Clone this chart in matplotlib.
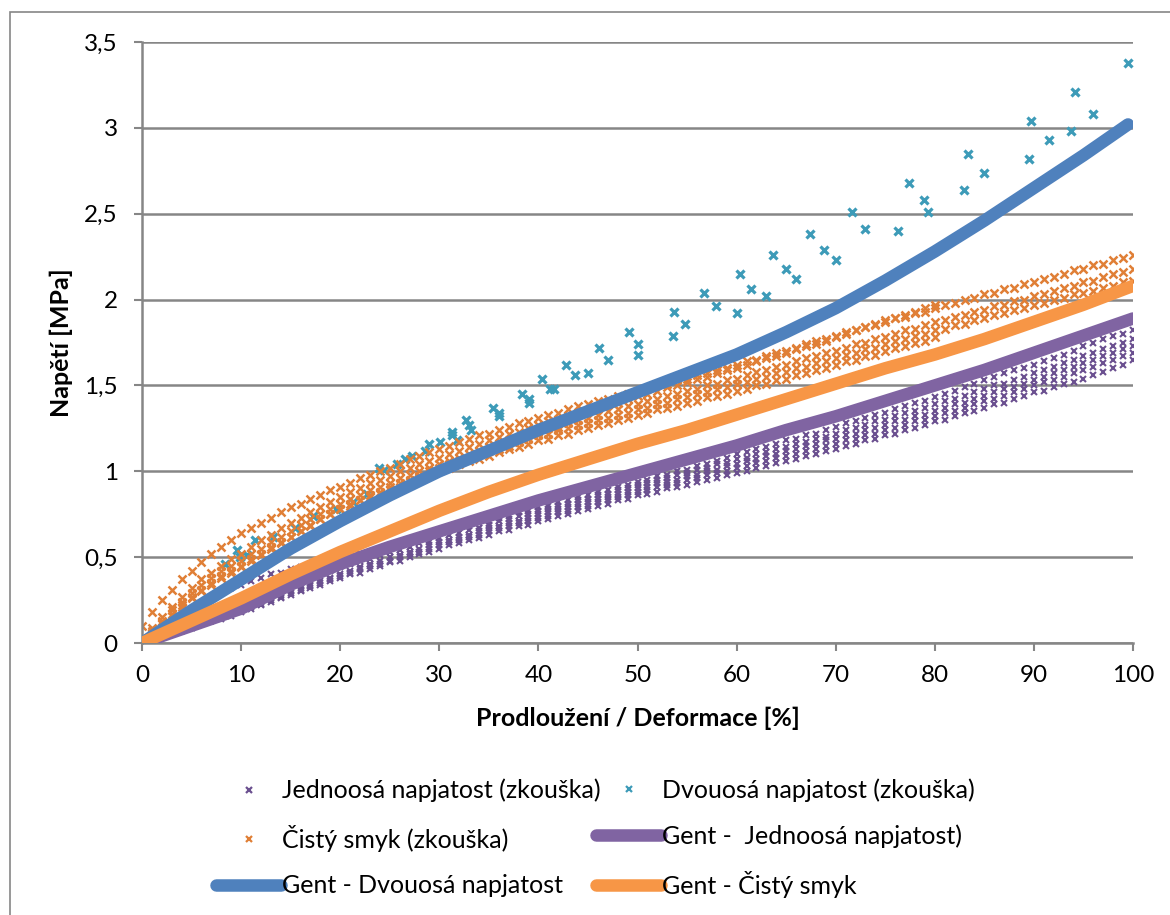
#coding:utf-8

import numpy as np
import matplotlib
matplotlib.use('Agg')
import matplotlib.pyplot as plt
from matplotlib.lines import Line2D
from matplotlib.patches import Rectangle

plt.rcParams['font.family'] = ['Lato', 'DejaVu Sans']

# ---- experimental data (strain in %, stress in MPa) ----
strain = np.arange(0, 101)        # full cycles, every 1 %
strain_short = np.arange(0, 81)   # cycles stopped at 80 %

# uniaxial test, five cycles
uni_1 = [0.00, 0.04, 0.08, 0.12, 0.16, 0.20, 0.23, 0.26, 0.29, 0.32, 0.34,
         0.36, 0.38, 0.40, 0.41, 0.43, 0.44, 0.45, 0.46, 0.48, 0.49,
         0.50, 0.52, 0.53, 0.55, 0.56, 0.58, 0.59, 0.61, 0.62, 0.64,
         0.65, 0.67, 0.68, 0.70, 0.71, 0.73, 0.74, 0.76, 0.77, 0.79,
         0.80, 0.82, 0.83, 0.85, 0.86, 0.88, 0.89, 0.91, 0.92, 0.94,
         0.95, 0.97, 0.98, 1.00, 1.01, 1.03, 1.04, 1.06, 1.08, 1.10,
         1.11, 1.13, 1.14, 1.16, 1.18, 1.19, 1.21, 1.22, 1.24, 1.26,
         1.28, 1.29, 1.31, 1.33, 1.34, 1.36, 1.38, 1.40, 1.41, 1.43,
         1.45, 1.47, 1.49, 1.51, 1.53, 1.55, 1.57, 1.59, 1.60, 1.62,
         1.64, 1.66, 1.68, 1.70, 1.73, 1.75, 1.77, 1.79, 1.80, 1.82]
uni_2 = [0.00, 0.03, 0.06, 0.09, 0.12, 0.14, 0.17, 0.19, 0.21, 0.23, 0.25,
         0.27, 0.29, 0.31, 0.33, 0.35, 0.37, 0.38, 0.40, 0.42, 0.44,
         0.46, 0.48, 0.49, 0.51, 0.53, 0.54, 0.56, 0.58, 0.59, 0.61,
         0.63, 0.64, 0.66, 0.67, 0.69, 0.71, 0.72, 0.74, 0.75, 0.77,
         0.78, 0.80, 0.81, 0.83, 0.84, 0.86, 0.87, 0.89, 0.90, 0.92,
         0.93, 0.95, 0.96, 0.98, 0.99, 1.01, 1.02, 1.04, 1.05, 1.07,
         1.08, 1.10, 1.11, 1.13, 1.14, 1.16, 1.17, 1.19, 1.20, 1.22,
         1.24, 1.25, 1.27, 1.29, 1.30, 1.32, 1.34, 1.35, 1.37, 1.39,
         1.41, 1.42, 1.44, 1.46, 1.48, 1.50, 1.51, 1.53, 1.55, 1.57,
         1.59, 1.61, 1.63, 1.65, 1.67, 1.69, 1.71, 1.73, 1.75, 1.77]
uni_3 = [0.00, 0.02, 0.04, 0.06, 0.08, 0.10, 0.12, 0.14, 0.16, 0.18, 0.20,
         0.22, 0.24, 0.26, 0.28, 0.30, 0.32, 0.34, 0.36, 0.38, 0.40,
         0.42, 0.44, 0.46, 0.48, 0.50, 0.51, 0.53, 0.55, 0.57, 0.59,
         0.60, 0.62, 0.63, 0.65, 0.67, 0.68, 0.70, 0.71, 0.73, 0.75,
         0.76, 0.78, 0.79, 0.81, 0.82, 0.84, 0.85, 0.87, 0.88, 0.90,
         0.91, 0.93, 0.94, 0.95, 0.97, 0.98, 1.00, 1.01, 1.03, 1.04,
         1.06, 1.07, 1.09, 1.10, 1.12, 1.13, 1.15, 1.16, 1.18, 1.19,
         1.21, 1.22, 1.24, 1.25, 1.27, 1.29, 1.30, 1.32, 1.33, 1.35,
         1.37, 1.39, 1.40, 1.42, 1.44, 1.46, 1.48, 1.49, 1.51, 1.53,
         1.55, 1.57, 1.59, 1.61, 1.63, 1.65, 1.67, 1.69, 1.71, 1.73]
uni_4 = [0.00, 0.02, 0.04, 0.06, 0.08, 0.10, 0.11, 0.13, 0.15, 0.17, 0.19,
         0.21, 0.23, 0.25, 0.27, 0.29, 0.31, 0.33, 0.35, 0.37, 0.39,
         0.41, 0.43, 0.45, 0.46, 0.48, 0.50, 0.52, 0.53, 0.55, 0.57,
         0.59, 0.60, 0.62, 0.63, 0.65, 0.67, 0.68, 0.70, 0.71, 0.73,
         0.74, 0.76, 0.77, 0.79, 0.80, 0.82, 0.83, 0.85, 0.86, 0.88,
         0.89, 0.91, 0.92, 0.93, 0.95, 0.96, 0.98, 0.99, 1.00, 1.02,
         1.03, 1.05, 1.06, 1.08, 1.09, 1.10, 1.12, 1.13, 1.15, 1.16,
         1.18, 1.19, 1.21, 1.22, 1.24, 1.25, 1.27, 1.29, 1.30, 1.32,
         1.34, 1.35, 1.37, 1.39, 1.41, 1.42, 1.44, 1.46, 1.48, 1.50,
         1.52, 1.53, 1.55, 1.57, 1.59, 1.61, 1.63, 1.65, 1.67, 1.69]
uni_5 = [0.00, 0.02, 0.04, 0.05, 0.07, 0.09, 0.11, 0.13, 0.14, 0.16, 0.18,
         0.20, 0.22, 0.24, 0.26, 0.28, 0.30, 0.32, 0.34, 0.36, 0.38,
         0.40, 0.41, 0.43, 0.45, 0.47, 0.48, 0.50, 0.52, 0.53, 0.55,
         0.57, 0.58, 0.60, 0.61, 0.63, 0.65, 0.66, 0.68, 0.69, 0.71,
         0.72, 0.74, 0.75, 0.77, 0.78, 0.80, 0.81, 0.83, 0.84, 0.86,
         0.87, 0.88, 0.90, 0.91, 0.92, 0.94, 0.95, 0.96, 0.98, 0.99,
         1.00, 1.02, 1.03, 1.05, 1.06, 1.07, 1.09, 1.10, 1.12, 1.13,
         1.15, 1.16, 1.18, 1.19, 1.21, 1.22, 1.24, 1.25, 1.27, 1.29,
         1.30, 1.32, 1.34, 1.35, 1.37, 1.39, 1.40, 1.42, 1.44, 1.46,
         1.47, 1.49, 1.51, 1.52, 1.54, 1.56, 1.58, 1.60, 1.62, 1.65]

# pure shear test, three cycles to 100 % and two to 80 %
shear_1 = [0.10, 0.18, 0.25, 0.31, 0.37, 0.42, 0.47, 0.52, 0.56, 0.60, 0.64,
           0.67, 0.70, 0.73, 0.76, 0.79, 0.81, 0.84, 0.86, 0.89, 0.91,
           0.93, 0.96, 0.98, 1.00, 1.02, 1.04, 1.07, 1.09, 1.11, 1.13,
           1.15, 1.17, 1.19, 1.21, 1.22, 1.24, 1.26, 1.28, 1.29, 1.31,
           1.33, 1.34, 1.36, 1.38, 1.39, 1.41, 1.42, 1.44, 1.45, 1.47,
           1.48, 1.50, 1.51, 1.53, 1.54, 1.56, 1.57, 1.59, 1.60, 1.62,
           1.64, 1.65, 1.67, 1.69, 1.70, 1.72, 1.74, 1.76, 1.77, 1.79,
           1.81, 1.82, 1.84, 1.85, 1.87, 1.89, 1.90, 1.92, 1.93, 1.95,
           1.97, 1.98, 2.00, 2.01, 2.03, 2.04, 2.06, 2.07, 2.09, 2.10,
           2.12, 2.13, 2.15, 2.17, 2.18, 2.20, 2.21, 2.23, 2.24, 2.26]
shear_2 = [0.00, 0.07, 0.13, 0.19, 0.24, 0.29, 0.34, 0.38, 0.42, 0.45, 0.48,
           0.52, 0.55, 0.59, 0.62, 0.65, 0.69, 0.72, 0.75, 0.78, 0.81,
           0.84, 0.86, 0.89, 0.91, 0.93, 0.96, 0.98, 1.00, 1.02, 1.04,
           1.06, 1.08, 1.10, 1.12, 1.14, 1.16, 1.18, 1.20, 1.21, 1.23,
           1.25, 1.26, 1.28, 1.30, 1.31, 1.33, 1.35, 1.36, 1.38, 1.39,
           1.41, 1.42, 1.44, 1.45, 1.47, 1.48, 1.50, 1.51, 1.53, 1.54,
           1.56, 1.58, 1.59, 1.61, 1.62, 1.64, 1.66, 1.67, 1.69, 1.70,
           1.72, 1.74, 1.75, 1.77, 1.78, 1.80, 1.82, 1.83, 1.85, 1.87,
           1.88, 1.90, 1.91, 1.93, 1.94, 1.96, 1.97, 1.99, 2.00, 2.02,
           2.03, 2.05, 2.07, 2.08, 2.10, 2.11, 2.13, 2.15, 2.16, 2.18]
shear_3 = [0.00, 0.06, 0.12, 0.17, 0.22, 0.27, 0.31, 0.35, 0.39, 0.42, 0.45,
           0.49, 0.52, 0.56, 0.59, 0.62, 0.65, 0.69, 0.72, 0.75, 0.78,
           0.81, 0.83, 0.86, 0.88, 0.91, 0.93, 0.95, 0.97, 1.00, 1.02,
           1.04, 1.06, 1.08, 1.10, 1.12, 1.13, 1.15, 1.17, 1.19, 1.21,
           1.22, 1.24, 1.25, 1.27, 1.28, 1.30, 1.31, 1.33, 1.34, 1.36,
           1.37, 1.39, 1.40, 1.42, 1.43, 1.45, 1.46, 1.48, 1.49, 1.51,
           1.52, 1.54, 1.55, 1.57, 1.58, 1.60, 1.61, 1.63, 1.64, 1.66,
           1.68, 1.69, 1.71, 1.72, 1.74, 1.76, 1.77, 1.79, 1.80, 1.82,
           1.83, 1.85, 1.86, 1.88, 1.89, 1.91, 1.92, 1.94, 1.95, 1.97,
           1.98, 2.00, 2.01, 2.03, 2.04, 2.05, 2.07, 2.08, 2.10, 2.11]
shear_4 = [0.02, 0.09, 0.15, 0.21, 0.27, 0.32, 0.37, 0.41, 0.45, 0.49, 0.52,
           0.56, 0.60, 0.63, 0.67, 0.70, 0.73, 0.76, 0.79, 0.82, 0.85,
           0.88, 0.90, 0.93, 0.95, 0.97, 1.00, 1.02, 1.04, 1.06, 1.08,
           1.10, 1.12, 1.14, 1.16, 1.18, 1.20, 1.22, 1.23, 1.25, 1.27,
           1.29, 1.30, 1.32, 1.34, 1.35, 1.37, 1.39, 1.40, 1.42, 1.44,
           1.45, 1.47, 1.49, 1.50, 1.52, 1.54, 1.55, 1.57, 1.59, 1.60,
           1.62, 1.64, 1.66, 1.67, 1.69, 1.71, 1.73, 1.74, 1.76, 1.78,
           1.80, 1.82, 1.84, 1.86, 1.88, 1.89, 1.91, 1.93, 1.95, 1.97]
shear_5 = [0.00, 0.06, 0.11, 0.16, 0.21, 0.26, 0.30, 0.34, 0.38, 0.41, 0.44,
           0.48, 0.51, 0.55, 0.58, 0.62, 0.65, 0.68, 0.72, 0.75, 0.78,
           0.80, 0.83, 0.85, 0.87, 0.89, 0.91, 0.94, 0.96, 0.98, 1.00,
           1.02, 1.04, 1.06, 1.07, 1.09, 1.11, 1.13, 1.14, 1.16, 1.18,
           1.19, 1.21, 1.22, 1.24, 1.25, 1.27, 1.28, 1.30, 1.31, 1.33,
           1.34, 1.36, 1.37, 1.38, 1.40, 1.41, 1.43, 1.44, 1.45, 1.47,
           1.48, 1.50, 1.51, 1.53, 1.54, 1.56, 1.57, 1.59, 1.60, 1.62,
           1.64, 1.65, 1.67, 1.68, 1.70, 1.72, 1.73, 1.75, 1.76, 1.78]

# equibiaxial test, scattered points
biax_x = [8.4, 9.6, 9.9, 10.6, 11.4, 13.2, 15.4, 17.3, 19.6, 21.3, 22.7, 23.9,
          24.4, 25.7, 26.5, 27.2, 28.6, 29.0, 30.1, 31.3, 31.3, 31.8, 32.7,
          33.0, 33.2, 35.4, 36.0, 36.0, 38.3, 39.1, 39.1, 40.4, 41.2, 41.6,
          42.8, 43.7, 45.0, 46.1, 47.0, 49.1, 50.0, 50.0, 53.6, 53.7, 54.8,
          56.7, 57.9, 60.0, 60.3, 61.5, 63.0, 63.7, 65.0, 66.0, 67.4, 68.8,
          70.0, 71.6, 73.0, 76.3, 77.4, 78.9, 79.3, 82.9, 83.4, 85.0, 89.5,
          89.7, 91.5, 93.7, 94.1, 96.0, 99.5]
biax_y = [0.46, 0.54, 0.50, 0.51, 0.60, 0.62, 0.67, 0.74, 0.78, 0.82, 0.87, 1.02,
          1.01, 1.04, 1.07, 1.09, 1.12, 1.16, 1.17, 1.23, 1.21, 1.18, 1.30,
          1.27, 1.24, 1.37, 1.34, 1.32, 1.45, 1.42, 1.40, 1.54, 1.48, 1.48,
          1.62, 1.56, 1.57, 1.72, 1.65, 1.81, 1.74, 1.68, 1.79, 1.93, 1.86,
          2.04, 1.96, 1.92, 2.15, 2.06, 2.02, 2.26, 2.18, 2.12, 2.38, 2.29,
          2.23, 2.51, 2.41, 2.40, 2.68, 2.58, 2.51, 2.64, 2.85, 2.74, 2.82,
          3.04, 2.93, 2.98, 3.21, 3.08, 3.38]

# ---- Gent model fits ----
gent_x = [0, 5, 10, 15, 20, 25, 30, 35, 40, 45, 50, 55, 60, 65, 70, 75, 80,
          85, 90, 95, 100]
gent_x_biax = [0, 5, 10, 15, 20, 25, 30, 35, 40, 45, 50, 55, 60, 65, 70, 75,
               80, 85, 90, 95, 99.5]
gent_uni = [0.00, 0.10, 0.20, 0.34, 0.46, 0.56, 0.65, 0.74, 0.83, 0.91, 0.99,
            1.07, 1.15, 1.24, 1.32, 1.41, 1.50, 1.59, 1.69, 1.79, 1.89]
gent_biax = [0.00, 0.19, 0.37, 0.55, 0.71, 0.86, 1.00, 1.12, 1.24, 1.35, 1.46,
             1.57, 1.68, 1.81, 1.95, 2.11, 2.28, 2.46, 2.65, 2.84, 3.02]
gent_shear = [0.00, 0.13, 0.26, 0.40, 0.53, 0.65, 0.77, 0.88, 0.98, 1.07, 1.16,
              1.24, 1.33, 1.42, 1.51, 1.60, 1.68, 1.77, 1.87, 1.97, 2.08]

labels = ['Jednoosá napjatost (zkouška)', 'Dvouosá napjatost (zkouška)',
          'Čistý smyk (zkouška)', 'Gent -  Jednoosá napjatost)',
          'Gent - Dvouosá napjatost', 'Gent - Čistý smyk']

c_uni_m = '#6b5090'
c_biax_m = '#3d9bb8'
c_shear_m = '#e07f36'
c_uni = '#8064a2'
c_biax = '#4f81bd'
c_shear = '#f79646'
grey = '#868686'

W, H = 1170, 915
fig = plt.figure(figsize=(W/100, H/100), dpi=100)
ax = fig.add_axes([142/W, 1-643/H, (1133-142)/W, (643-42)/H])

# outer chart border
fig.patches.append(Rectangle((10/W, -0.05), 1.2, 1-12/H+0.05,
                             transform=fig.transFigure, fill=False,
                             edgecolor=grey, lw=1.2))

for yy in [uni_1, uni_2, uni_3, uni_4, uni_5]:
    ax.plot(strain, yy, ls='none', marker='x', ms=4.2, mew=1.5, color=c_uni_m, zorder=2)
ax.plot(biax_x, biax_y, ls='none', marker='x', ms=6.3, mew=2.3, color=c_biax_m, zorder=2)
for yy in [shear_1, shear_2, shear_3]:
    ax.plot(strain, yy, ls='none', marker='x', ms=5.5, mew=1.8, color=c_shear_m, zorder=2)
for yy in [shear_4, shear_5]:
    ax.plot(strain_short, yy, ls='none', marker='x', ms=5.5, mew=1.8, color=c_shear_m, zorder=2)

ax.plot(gent_x, gent_uni, color=c_uni, lw=9, solid_capstyle='round', zorder=3)
ax.plot(gent_x_biax, gent_biax, color=c_biax, lw=9, solid_capstyle='round', zorder=3)
ax.plot(gent_x, gent_shear, color=c_shear, lw=9, solid_capstyle='round', zorder=3)

ax.set_xlim(0, 100)
ax.set_ylim(0, 3.5)
ax.set_xticks(range(0, 101, 10))
ax.set_yticks([0, 0.5, 1, 1.5, 2, 2.5, 3, 3.5])
ax.set_yticklabels(['0', '0,5', '1', '1,5', '2', '2,5', '3', '3,5'])
ax.grid(axis='y', color=grey, lw=1.8)
ax.set_axisbelow(True)
for s in ['top', 'right']:
    ax.spines[s].set_visible(False)
for s in ['left', 'bottom']:
    ax.spines[s].set_color(grey)
    ax.spines[s].set_linewidth(1.8)
ax.tick_params(axis='both', colors=grey, length=5.5, width=1.5, labelsize=17.5,
               labelcolor='black', pad=12)
ax.tick_params(axis='x', pad=10)

ax.set_ylabel('Napětí [MPa]', fontsize=18, fontweight='bold', labelpad=8)
ax.set_xlabel('Prodloužení / Deformace [%]', fontsize=18, fontweight='bold', labelpad=15)

def mk(color):
    return Line2D([], [], ls='none', marker='x', ms=4.5, mew=1.6, color=color)

def ln(color):
    return Line2D([], [], color=color, lw=9, solid_capstyle='round')

leg_kw = dict(loc='center left', frameon=False, fontsize=18, handlelength=2.6,
              handletextpad=0.05, labelspacing=0.9, borderpad=0, borderaxespad=0)
leg1 = fig.legend([mk(c_uni_m), mk(c_shear_m), ln(c_biax)],
                  [labels[0], labels[2], labels[4]],
                  bbox_to_anchor=(216/W, 1-838/H), **leg_kw)
leg2 = fig.legend([mk(c_biax_m), ln(c_uni), ln(c_shear)],
                  [labels[1], labels[3], labels[5]],
                  bbox_to_anchor=(596/W, 1-838/H), **leg_kw)

fig.savefig('out.png', dpi=100)
